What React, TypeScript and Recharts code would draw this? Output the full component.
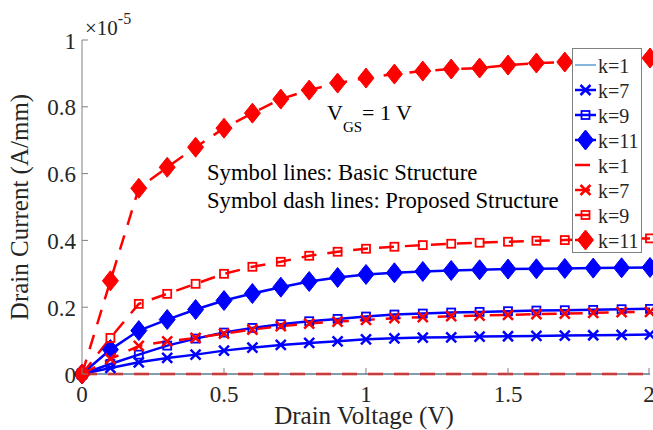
import React from 'react';
import { LineChart, Line, XAxis, YAxis, Legend } from 'recharts';

// drain voltage (V)
const drainVoltage = [0, 0.1, 0.2, 0.3, 0.4, 0.5, 0.6, 0.7, 0.8, 0.9, 1.0, 1.1, 1.2, 1.3, 1.4, 1.5, 1.6, 1.7, 1.8, 1.9, 2.0];

// drain current in units of 1e-5 A/mm -- basic structure (solid)
const basicK1 = [0, 0, 0, 0, 0, 0, 0, 0, 0, 0, 0, 0, 0, 0, 0, 0, 0, 0, 0, 0, 0];
const basicK7 = [0, 0.018, 0.035, 0.048, 0.058, 0.07, 0.079, 0.087, 0.093, 0.098, 0.104, 0.107, 0.109, 0.11, 0.112, 0.113, 0.114, 0.115, 0.116, 0.117, 0.118];
const basicK9 = [0, 0.03, 0.058, 0.085, 0.106, 0.124, 0.138, 0.149, 0.158, 0.165, 0.172, 0.178, 0.181, 0.184, 0.186, 0.188, 0.19, 0.191, 0.192, 0.194, 0.195];
const basicK11 = [0, 0.073, 0.13, 0.163, 0.193, 0.22, 0.241, 0.26, 0.277, 0.289, 0.298, 0.303, 0.307, 0.31, 0.312, 0.314, 0.315, 0.316, 0.317, 0.318, 0.319];

// proposed structure (dashed)
const proposedK1 = [0, 0, 0, 0, 0, 0, 0, 0, 0, 0, 0, 0, 0, 0, 0, 0, 0, 0, 0, 0, 0];
const proposedK7 = [0, 0.045, 0.084, 0.098, 0.108, 0.121, 0.133, 0.143, 0.151, 0.157, 0.162, 0.167, 0.17, 0.173, 0.175, 0.177, 0.179, 0.181, 0.183, 0.185, 0.186];
const proposedK9 = [0, 0.108, 0.21, 0.24, 0.27, 0.3, 0.321, 0.336, 0.354, 0.366, 0.375, 0.381, 0.386, 0.39, 0.393, 0.396, 0.399, 0.401, 0.403, 0.405, 0.406];
const proposedK11 = [0, 0.279, 0.556, 0.619, 0.679, 0.736, 0.781, 0.823, 0.85, 0.871, 0.886, 0.898, 0.907, 0.913, 0.916, 0.925, 0.931, 0.934, 0.938, 0.941, 0.946];

const xTicks = [0, 0.5, 1, 1.5, 2];
const xTickLabels = ['0', '0.5', '1', '1.5', '2'];
const yTicks = [0, 0.2, 0.4, 0.6, 0.8, 1];
const yTickLabels = ['0', '0.2', '0.4', '0.6', '0.8', '1'];
const legendLabels = ['k=1', 'k=7', 'k=9', 'k=11', 'k=1', 'k=7', 'k=9', 'k=11'];

const data = drainVoltage.map((v, i) => ({
  v,
  b1: basicK1[i],
  b7: basicK7[i],
  b9: basicK9[i],
  b11: basicK11[i],
  p1: proposedK1[i],
  p7: proposedK7[i],
  p9: proposedK9[i],
  p11: proposedK11[i],
}));

const BLUE = '#0000ff';
const RED = '#ff0000';
const LIGHT_BLUE = '#5a9fd4';
const AXIS = '#808080';
const TEXT = '#262626';
const FONT = '"Liberation Serif", "Times New Roman", serif';
const DASH = '15 11';

type Marker = 'none' | 'x' | 'square' | 'diamond';

const series: { key: string; color: string; dashed: boolean; marker: Marker; width: number }[] = [
  { key: 'b1', color: LIGHT_BLUE, dashed: false, marker: 'none', width: 1.5 },
  { key: 'b7', color: BLUE, dashed: false, marker: 'x', width: 2.5 },
  { key: 'b9', color: BLUE, dashed: false, marker: 'square', width: 2.5 },
  { key: 'b11', color: BLUE, dashed: false, marker: 'diamond', width: 2.5 },
  { key: 'p1', color: RED, dashed: true, marker: 'none', width: 2.5 },
  { key: 'p7', color: RED, dashed: true, marker: 'x', width: 2.5 },
  { key: 'p9', color: RED, dashed: true, marker: 'square', width: 2.5 },
  { key: 'p11', color: RED, dashed: true, marker: 'diamond', width: 2.5 },
];

function drawMarker(marker: Marker, color: string, cx: number, cy: number) {
  if (marker === 'x') {
    return (
      <path
        d={`M${cx - 5},${cy - 5}L${cx + 5},${cy + 5}M${cx - 5},${cy + 5}L${cx + 5},${cy - 5}`}
        stroke={color}
        strokeWidth={2.5}
        fill="none"
      />
    );
  }
  if (marker === 'square') {
    return <rect x={cx - 4} y={cy - 4} width={8} height={8} stroke={color} strokeWidth={1.8} fill="none" />;
  }
  if (marker === 'diamond') {
    return (
      <polygon
        points={`${cx},${cy - 10} ${cx + 8},${cy} ${cx},${cy + 10} ${cx - 8},${cy}`}
        fill={color}
        stroke={color}
        strokeWidth={1}
      />
    );
  }
  return null;
}

const serif = { fontFamily: FONT };

const XTick = (props: any) => {
  const { x, y, payload } = props;
  const idx = xTicks.indexOf(payload.value);
  return (
    <g>
      <line x1={x} y1={y} x2={x} y2={y - 6} stroke={AXIS} />
      <text x={x} y={y + 28} textAnchor="middle" fontSize={23} fill={TEXT} style={serif}>
        {xTickLabels[idx]}
      </text>
    </g>
  );
};

const YTick = (props: any) => {
  const { x, y, payload } = props;
  const idx = yTicks.indexOf(payload.value);
  return (
    <g>
      <line x1={x} y1={y} x2={x + 6} y2={y} stroke={AXIS} />
      <text x={x - 6} y={y + 8.5} textAnchor="end" fontSize={23} fill={TEXT} style={serif}>
        {yTickLabels[idx]}
      </text>
    </g>
  );
};

const renderLegend = () => (
  <div style={{ border: `1px solid ${AXIS}`, background: '#fff', width: 68, height: 203 }}>
    <svg width={68} height={203} style={{ display: 'block' }}>
      {series.map((s, i) => {
        const cy = 16 + i * 25;
        return (
          <g key={s.key}>
            <line
              x1={2}
              x2={23}
              y1={cy}
              y2={cy}
              stroke={s.color}
              strokeWidth={s.width}
              strokeDasharray={s.dashed ? DASH : undefined}
            />
            {drawMarker(s.marker, s.color, 12.5, cy)}
            <text x={25} y={cy + 7.5} fontSize={20} fill={TEXT} style={serif}>
              {legendLabels[i]}
            </text>
          </g>
        );
      })}
    </svg>
  </div>
);

export default function App() {
  return (
    <div style={{ position: 'absolute', left: 0, top: 0, width: 653, height: 430, background: '#fff' }}>
      <LineChart width={653} height={430} data={data} margin={{ top: 40, right: 3, bottom: 0, left: 0 }}>
        <XAxis
          dataKey="v"
          type="number"
          domain={[0, 2]}
          ticks={xTicks}
          height={56}
          stroke={AXIS}
          tickLine={false}
          tickSize={0}
          tickMargin={0}
          tick={<XTick />}
        />
        <XAxis
          xAxisId="top"
          orientation="top"
          type="number"
          domain={[0, 2]}
          ticks={[0.5, 1, 1.5]}
          mirror
          height={0}
          stroke={AXIS}
          tick={false}
          tickSize={6}
        />
        <YAxis
          type="number"
          domain={[0, 1]}
          ticks={yTicks}
          width={82}
          stroke={AXIS}
          tickLine={false}
          tickSize={0}
          tickMargin={0}
          tick={<YTick />}
        />
        <YAxis
          yAxisId="right"
          orientation="right"
          type="number"
          domain={[0, 1]}
          ticks={[0.2, 0.4, 0.6, 0.8]}
          mirror
          width={0}
          stroke={AXIS}
          tick={false}
          tickSize={6}
        />
        {series.map((s) => (
          <Line
            key={s.key}
            dataKey={s.key}
            type="linear"
            stroke={s.color}
            strokeWidth={s.width}
            strokeDasharray={s.dashed ? DASH : undefined}
            isAnimationActive={false}
            activeDot={false}
            dot={
              s.marker === 'none'
                ? false
                : (p: any) => <g key={`${s.key}-${p.index}`}>{drawMarker(s.marker, s.color, p.cx, p.cy)}</g>
            }
          />
        ))}
        <Legend
          layout="vertical"
          align="center"
          verticalAlign="middle"
          content={renderLegend}
          wrapperStyle={{ left: 572, top: 48, width: 70, height: 205 }}
        />
      </LineChart>
      <svg
        width={653}
        height={430}
        style={{ position: 'absolute', left: 0, top: 0, pointerEvents: 'none', fontFamily: FONT }}
        fill={TEXT}
      >
        <text x={85} y={35} fontSize={21}>
          ×10<tspan dy={-11} fontSize={16}>-5</tspan>
        </text>
        <text x={327} y={120} fontSize={22} fill="#000">
          V<tspan dy={12} fontSize={15}>GS</tspan>
          <tspan dy={-12}>= 1 V</tspan>
        </text>
        <text x={207} y={180} fontSize={22.7} fill="#000">
          Symbol lines: Basic Structure
        </text>
        <text x={207} y={208} fontSize={22.7} fill="#000">
          Symbol dash lines: Proposed Structure
        </text>
        <text x={364} y={424} fontSize={25} textAnchor="middle">
          Drain Voltage (V)
        </text>
        <text x={28} y={207} fontSize={25} textAnchor="middle" transform="rotate(-90 28 207)">
          Drain Current (A/mm)
        </text>
      </svg>
    </div>
  );
}
